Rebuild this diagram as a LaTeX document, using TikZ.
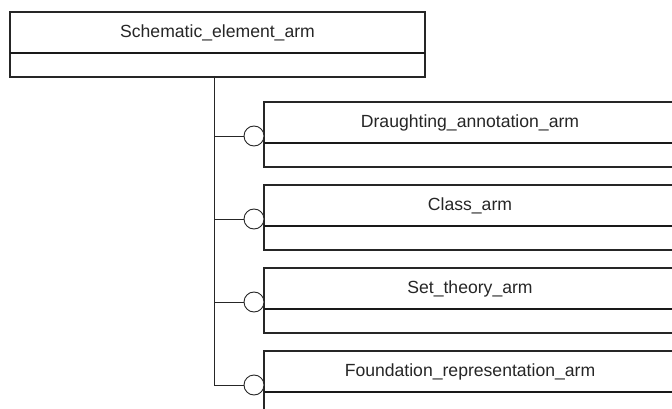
\documentclass[tikz,border=0pt]{standalone}
\usepackage{fontspec}
\setmainfont{Liberation Sans}
\usetikzlibrary{positioning}

\begin{document}
\begin{tikzpicture}[x=1pt,y=1pt,
	entity/.style={draw=black!85, line width=1.1pt, outer sep=0pt, inner sep=0pt, minimum height=41pt, text=black!85, font=\fontsize{17.6}{20}\selectfont},
	attrs/.style={draw=black!85, line width=1.1pt, outer sep=0pt, inner sep=0pt, minimum height=24pt},
	divider/.style={draw=black!90, line width=1.9pt},
	optc/.style={circle, draw=black!85, line width=0.9pt, fill=white, outer sep=0pt, inner sep=0pt, minimum size=20pt},
	link/.style={draw=black!85, line width=0.9pt}]
	\useasboundingbox (0,0) rectangle (672,-409);
	\clip (0,0) rectangle (672,-409);
	% Supertype
	\node[entity, minimum width=415pt, anchor=north west] at (10,-12) (sea) {Schematic\_element\_arm};
	\node[attrs, minimum width=415pt, below=0pt of sea] (seaatt) {};
	\draw[divider] (sea.south west) -- (sea.south east);
	\coordinate (trunk) at (214,-76);
	% Subtypes
	\node[entity, minimum width=412pt, anchor=north west] at (264,-102) (daa) {Draughting\_annotation\_arm};
	\node[attrs, minimum width=412pt, below=0pt of daa] (daaatt) {};
	\node[entity, minimum width=412pt, below=18pt of daaatt] (ca) {Class\_arm};
	\node[attrs, minimum width=412pt, below=0pt of ca] (caatt) {};
	\node[entity, minimum width=412pt, below=18pt of caatt] (sta) {Set\_theory\_arm};
	\node[attrs, minimum width=412pt, below=0pt of sta] (staatt) {};
	\node[entity, minimum width=412pt, below=18pt of staatt] (fra) {Foundation\_representation\_arm};
	\node[attrs, minimum width=412pt, below=0pt of fra] (fraatt) {};
	\draw[divider] (daa.south west) -- (daa.south east);
	\draw[divider] (ca.south west) -- (ca.south east);
	\draw[divider] (sta.south west) -- (sta.south east);
	\draw[divider] (fra.south west) -- (fra.south east);
	% Optional circles
	\node[optc, anchor=east, yshift=7pt] at (daa.south west) (o1) {};
	\node[optc, anchor=east, yshift=7pt] at (ca.south west) (o2) {};
	\node[optc, anchor=east, yshift=7pt] at (sta.south west) (o3) {};
	\node[optc, anchor=east, yshift=7pt] at (fra.south west) (o4) {};
	% Tree lines
	\draw[link] (trunk) |- (o4.west);
	\draw[link] (o1.west) -- (o1.west -| trunk);
	\draw[link] (o2.west) -- (o2.west -| trunk);
	\draw[link] (o3.west) -- (o3.west -| trunk);
\end{tikzpicture}
\end{document}
